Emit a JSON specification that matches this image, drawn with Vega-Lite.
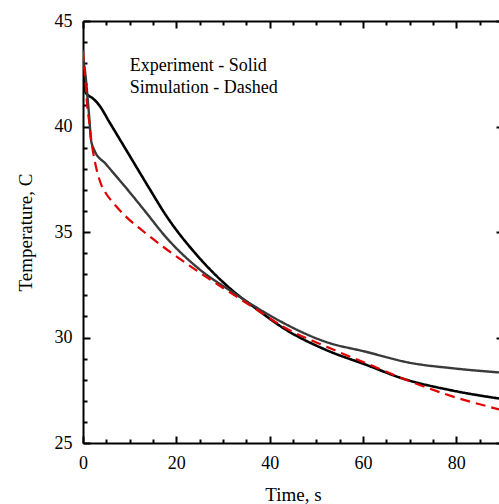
{
  "$schema": "https://vega.github.io/schema/vega-lite/v6.json",
  "autosize": "none",
  "padding": {"left": 83, "top": 21, "right": 0, "bottom": 61},
  "width": 420,
  "height": 422,
  "background": "white",
  "config": {
    "view": {"stroke": null},
    "font": "Liberation Serif",
    "axis": {
      "domainColor": "black",
      "domainWidth": 2,
      "tickColor": "black",
      "tickWidth": 2,
      "grid": false,
      "labelFont": "Liberation Serif",
      "labelFontSize": 18,
      "labelColor": "black",
      "titleFont": "Liberation Serif",
      "titleFontSize": 19,
      "titleFontWeight": "normal",
      "titleColor": "black"
    }
  },
  "layer": [
    {
      "data": {
        "values": [
          {"t": 0, "temp": 43.1, "series": "Experiment A"},
          {"t": 0.3, "temp": 42.2, "series": "Experiment A"},
          {"t": 0.6, "temp": 41.6, "series": "Experiment A"},
          {"t": 1.0, "temp": 41.5, "series": "Experiment A"},
          {"t": 2.0, "temp": 41.35, "series": "Experiment A"},
          {"t": 3.5, "temp": 41.0, "series": "Experiment A"},
          {"t": 5.6, "temp": 40.23, "series": "Experiment A"},
          {"t": 9.9, "temp": 38.65, "series": "Experiment A"},
          {"t": 14.2, "temp": 37.07, "series": "Experiment A"},
          {"t": 17.6, "temp": 35.85, "series": "Experiment A"},
          {"t": 24.7, "temp": 33.83, "series": "Experiment A"},
          {"t": 31.9, "temp": 32.25, "series": "Experiment A"},
          {"t": 36.9, "temp": 31.4, "series": "Experiment A"},
          {"t": 42.9, "temp": 30.45, "series": "Experiment A"},
          {"t": 52.2, "temp": 29.4, "series": "Experiment A"},
          {"t": 60.5, "temp": 28.72, "series": "Experiment A"},
          {"t": 68.6, "temp": 28.05, "series": "Experiment A"},
          {"t": 79.3, "temp": 27.48, "series": "Experiment A"},
          {"t": 90, "temp": 27.08, "series": "Experiment A"},

          {"t": 0, "temp": 43.2, "series": "Experiment B"},
          {"t": 0.6, "temp": 42.3, "series": "Experiment B"},
          {"t": 1.0, "temp": 41.3, "series": "Experiment B"},
          {"t": 1.35, "temp": 40.4, "series": "Experiment B"},
          {"t": 1.7, "temp": 39.4, "series": "Experiment B"},
          {"t": 2.4, "temp": 38.89, "series": "Experiment B"},
          {"t": 4.9, "temp": 38.22, "series": "Experiment B"},
          {"t": 9.2, "temp": 37.1, "series": "Experiment B"},
          {"t": 13.5, "temp": 35.93, "series": "Experiment B"},
          {"t": 17.6, "temp": 34.8, "series": "Experiment B"},
          {"t": 24.7, "temp": 33.28, "series": "Experiment B"},
          {"t": 31.9, "temp": 32.17, "series": "Experiment B"},
          {"t": 36.9, "temp": 31.46, "series": "Experiment B"},
          {"t": 40.8, "temp": 30.95, "series": "Experiment B"},
          {"t": 52.2, "temp": 29.78, "series": "Experiment B"},
          {"t": 60.5, "temp": 29.33, "series": "Experiment B"},
          {"t": 70.1, "temp": 28.8, "series": "Experiment B"},
          {"t": 79.3, "temp": 28.54, "series": "Experiment B"},
          {"t": 90, "temp": 28.33, "series": "Experiment B"},

          {"t": 0, "temp": 43.6, "series": "Simulation"},
          {"t": 0.5, "temp": 42.2, "series": "Simulation"},
          {"t": 0.9, "temp": 41.0, "series": "Simulation"},
          {"t": 1.35, "temp": 40.2, "series": "Simulation"},
          {"t": 1.8, "temp": 39.3, "series": "Simulation"},
          {"t": 2.4, "temp": 38.5, "series": "Simulation"},
          {"t": 3.1, "temp": 37.8, "series": "Simulation"},
          {"t": 3.9, "temp": 37.25, "series": "Simulation"},
          {"t": 5.0, "temp": 36.8, "series": "Simulation"},
          {"t": 6.4, "temp": 36.4, "series": "Simulation"},
          {"t": 9.2, "temp": 35.73, "series": "Simulation"},
          {"t": 13.1, "temp": 35.0, "series": "Simulation"},
          {"t": 17.6, "temp": 34.23, "series": "Simulation"},
          {"t": 24.7, "temp": 33.12, "series": "Simulation"},
          {"t": 31.9, "temp": 32.08, "series": "Simulation"},
          {"t": 37.9, "temp": 31.22, "series": "Simulation"},
          {"t": 42.9, "temp": 30.51, "series": "Simulation"},
          {"t": 52.2, "temp": 29.56, "series": "Simulation"},
          {"t": 61, "temp": 28.75, "series": "Simulation"},
          {"t": 69.3, "temp": 27.99, "series": "Simulation"},
          {"t": 79.3, "temp": 27.2, "series": "Simulation"},
          {"t": 90, "temp": 26.55, "series": "Simulation"}
        ]
      },
      "mark": {"type": "line", "interpolate": "monotone", "clip": true},
      "encoding": {
        "x": {
          "field": "t", "type": "quantitative",
          "scale": {"domain": [0, 90], "nice": false, "zero": false},
          "axis": {
            "orient": "bottom",
            "title": "Time, s",
            "values": [0,5,10,15,20,25,30,35,40,45,50,55,60,65,70,75,80,85,90],
            "labelExpr": "datum.value % 20 === 0 ? datum.label : ''",
            "tickSize": {"condition": {"test": "datum.value % 20 === 0", "value": -7}, "value": -4},
            "labelPadding": 18,
            "titlePadding": 10,
            "labelFlush": false,
            "labelOverlap": false
          }
        },
        "y": {
          "field": "temp", "type": "quantitative",
          "scale": {"domain": [25, 45], "nice": false, "zero": false},
          "axis": {
            "orient": "left",
            "title": "Temperature, C",
            "values": [25,26,27,28,29,30,31,32,33,34,35,36,37,38,39,40,41,42,43,44,45],
            "labelExpr": "datum.value % 5 === 0 ? datum.label : ''",
            "tickSize": {"condition": {"test": "datum.value % 5 === 0", "value": -7}, "value": -4},
            "labelPadding": 18,
            "titlePadding": 19,
            "labelFlush": false,
            "labelOverlap": false
          }
        },
        "color": {
          "field": "series", "type": "nominal", "legend": null,
          "scale": {"domain": ["Experiment A", "Experiment B", "Simulation"], "range": ["#000000", "#3a3a3a", "#e00000"]}
        },
        "strokeDash": {
          "field": "series", "type": "nominal", "legend": null,
          "scale": {"domain": ["Experiment A", "Experiment B", "Simulation"], "range": [[1, 0], [1, 0], [10, 6]]}
        },
        "strokeWidth": {
          "field": "series", "type": "nominal", "legend": null,
          "scale": {"domain": ["Experiment A", "Experiment B", "Simulation"], "range": [2.6, 2.2, 2.2]}
        }
      }
    },
    {
      "data": {
        "values": [
          {"t": 10, "temp": 42.63, "label": "Experiment - Solid"},
          {"t": 10, "temp": 41.59, "label": "Simulation - Dashed"}
        ]
      },
      "mark": {"type": "text", "align": "left", "baseline": "alphabetic", "fontSize": 18, "font": "Liberation Serif", "color": "black"},
      "encoding": {
        "x": {
          "field": "t", "type": "quantitative",
          "scale": {"domain": [0, 90], "nice": false, "zero": false},
          "axis": {
            "orient": "top",
            "title": null,
            "values": [0,5,10,15,20,25,30,35,40,45,50,55,60,65,70,75,80,85,90],
            "labels": false,
            "tickSize": {"condition": {"test": "datum.value % 20 === 0", "value": -7}, "value": -4}
          }
        },
        "y": {
          "field": "temp", "type": "quantitative",
          "scale": {"domain": [25, 45], "nice": false, "zero": false},
          "axis": {
            "orient": "right",
            "title": null,
            "values": [25,26,27,28,29,30,31,32,33,34,35,36,37,38,39,40,41,42,43,44,45],
            "labels": false,
            "tickSize": {"condition": {"test": "datum.value % 5 === 0", "value": -7}, "value": -4}
          }
        },
        "text": {"field": "label", "type": "nominal"}
      }
    }
  ],
  "resolve": {"axis": {"x": "independent", "y": "independent"}}
}
